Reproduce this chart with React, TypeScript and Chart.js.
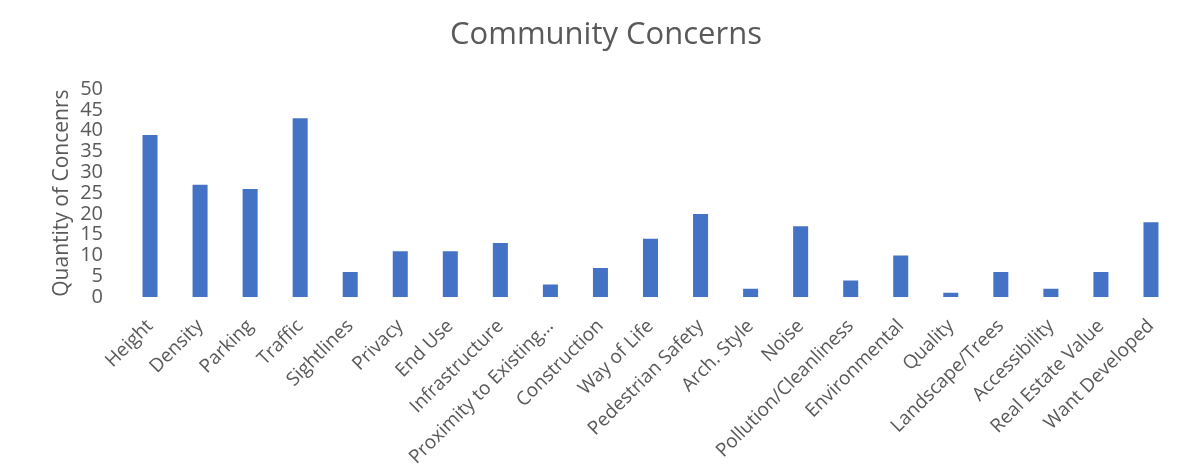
import React, { useEffect, useRef } from "react";
import { Chart, registerables } from "chart.js";

Chart.register(...registerables);

const categories = [
  "Height",
  "Density",
  "Parking",
  "Traffic",
  "Sightlines",
  "Privacy",
  "End Use",
  "Infrastructure",
  "Proximity to Existing…",
  "Construction",
  "Way of Life",
  "Pedestrian Safety",
  "Arch. Style",
  "Noise",
  "Pollution/Cleanliness",
  "Environmental",
  "Quality",
  "Landscape/Trees",
  "Accessibility",
  "Real Estate Value",
  "Want Developed",
];

const concerns = [39, 27, 26, 43, 6, 11, 11, 13, 3, 7, 14, 20, 2, 17, 4, 10, 1, 6, 2, 6, 18];

const yTicks = [0, 5, 10, 15, 20, 25, 30, 35, 40, 45, 50];

const chartTitle = "Community Concerns";
const yAxisTitle = "Quantity of Concenrs";

export default function App() {
  const canvasRef = useRef<HTMLCanvasElement | null>(null);

  useEffect(() => {
    document.body.style.margin = "0";
    const canvas = canvasRef.current;
    if (!canvas) return;
    const textColor = "#595959";
    const font = "'Open Sans', 'Noto Sans', sans-serif";
    const chart = new Chart(canvas, {
      type: "bar",
      data: {
        labels: categories,
        datasets: [
          {
            label: "Concerns",
            data: concerns,
            backgroundColor: "#4472C4",
            borderWidth: 0,
            barPercentage: 0.3,
            categoryPercentage: 1,
          },
        ],
      },
      options: {
        responsive: false,
        animation: false,
        layout: { padding: { left: 36, right: 20, top: 0, bottom: 0 } },
        plugins: {
          legend: { display: false },
          tooltip: { enabled: false },
          title: {
            display: true,
            text: chartTitle,
            color: textColor,
            font: { family: font, size: 31, weight: "normal" },
            padding: { top: 17, bottom: 35 },
          },
        },
        scales: {
          x: {
            grid: { display: false, drawTicks: false },
            border: { display: false },
            ticks: {
              color: textColor,
              font: { family: font, size: 19 },
              minRotation: 45,
              maxRotation: 45,
              autoSkip: false,
              padding: 18,
            },
            afterFit: (scale: any) => {
              scale.height = 171;
            },
          },
          y: {
            min: 0,
            max: 50,
            grid: { display: false, drawTicks: false },
            border: { display: false },
            afterBuildTicks: (scale: any) => {
              scale.ticks = yTicks.map((v) => ({ value: v }));
            },
            ticks: {
              color: textColor,
              font: { family: font, size: 20 },
              padding: 22,
              stepSize: 5,
              autoSkip: false,
            },
            title: {
              display: true,
              text: yAxisTitle,
              color: textColor,
              font: { family: font, size: 21 },
              padding: { top: 13, bottom: 0 },
            },
            afterFit: (scale: any) => {
              scale.width = 89;
            },
          },
        },
      },
    });
    return () => chart.destroy();
  }, []);

  return (
    <div style={{ width: 1196, height: 468, background: "#fff" }}>
      <canvas ref={canvasRef} width={1196} height={468} />
    </div>
  );
}
